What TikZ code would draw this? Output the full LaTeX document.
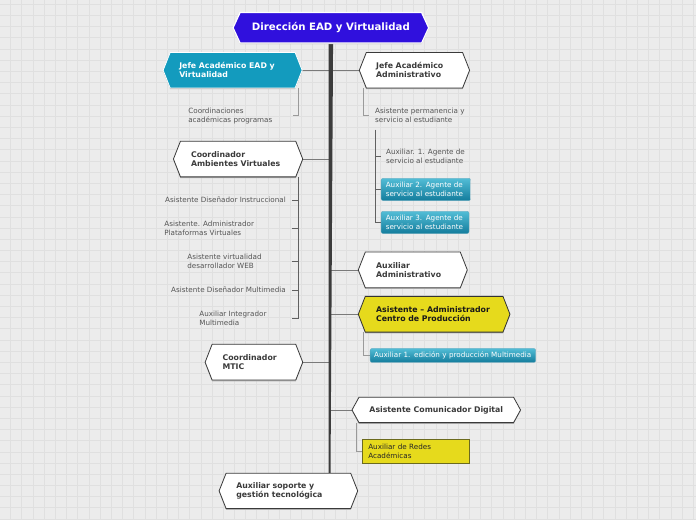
\documentclass[tikz,border=0pt]{standalone}
\usepackage{fontspec}
\setmainfont{DejaVu Sans}
\usetikzlibrary{calc}
\definecolor{bgc}{HTML}{ECECEC}
\definecolor{gridc}{HTML}{E0E0E0}
\definecolor{rootc}{HTML}{3010DD}
\definecolor{tealc}{HTML}{139BBE}
\definecolor{tealtop}{HTML}{52BDD6}
\definecolor{tealbot}{HTML}{137C9C}
\definecolor{yel}{HTML}{E6DA1C}
\definecolor{yelb}{HTML}{6B6A1E}
\definecolor{txt}{HTML}{3A3A3A}
\definecolor{smallc}{HTML}{555555}
\definecolor{trunkc}{HTML}{3C3C3C}
\definecolor{linec}{HTML}{7A7A7A}
\definecolor{subc}{HTML}{9A9A9A}
\definecolor{darksub}{HTML}{606060}
\pgfdeclarelayer{bg}\pgfdeclarelayer{edges}\pgfsetlayers{bg,edges,main}
\tikzset{
 boldtxt/.style={font=\fontsize{7.8}{9}\selectfont\bfseries, text=txt, align=left, inner sep=0, anchor=west},
 blacktxt/.style={boldtxt, text=black!90},
 whitebold/.style={boldtxt, text=white},
 roottxt/.style={font=\fontsize{10.2}{12}\selectfont\bfseries, text=white, inner sep=0},
 smalltxt/.style={font=\fontsize{7.2}{9}\selectfont, text=smallc, align=left, inner sep=0},
 whitehex/.style={fill=white, draw=txt, line width=0.8pt},
 tealhex/.style={fill=tealc, draw=white, line width=0.8pt},
 roothex/.style={fill=rootc, draw=white, line width=1.2pt},
 yelhex/.style={fill=yel, draw=black!80, line width=0.8pt},
 conn/.style={draw=linec, line width=0.8pt},
 subconn/.style={draw=subc, line width=0.8pt},
 darkconn/.style={draw=darksub, line width=0.9pt},
 tealbox/.style={rounded corners=2pt, top color=tealtop, bottom color=tealbot, draw=tealbot!70, line width=0.3pt, text=white, font=\fontsize{7.2}{9}\selectfont, align=left, anchor=north west, inner ysep=0},
 yelbox/.style={fill=yel, draw=yelb, line width=0.6pt, text=black!85, font=\fontsize{7.2}{9}\selectfont, align=left, anchor=north west, inner ysep=0},
}
% name, x1, y1, x2, y2, shape style, text style, text x offset, text
\newcommand\hx[9]{%
  \node[inner sep=0, minimum width={#4-#2}, minimum height={#5-#3}, anchor=north west] (#1) at (#2,#3) {};
  \path[fill=black!30, transform canvas={yshift=-1.2pt}] (#1.west) -- ([xshift=7]#1.north west) -- ([xshift=-7]#1.north east) -- (#1.east) -- ([xshift=-7]#1.south east) -- ([xshift=7]#1.south west) -- cycle;
  \path[#6] (#1.west) -- ([xshift=7]#1.north west) -- ([xshift=-7]#1.north east) -- (#1.east) -- ([xshift=-7]#1.south east) -- ([xshift=7]#1.south west) -- cycle;
  \node[#7] (#1t) at ([xshift=#8]#1.west) {#9};
}
\begin{document}
\begin{tikzpicture}[x=1pt,y=-1pt]
\begin{pgfonlayer}{bg}
\fill[bgc] (0,0) rectangle (696,520);
\foreach \i in {0,...,61} \draw[gridc, line width=0.6pt] ({10.3+11.2*\i},0) -- ({10.3+11.2*\i},520);
\foreach \j in {0,...,46} \draw[gridc, line width=0.6pt] (0,{3.9+11.2*\j}) -- (696,{3.9+11.2*\j});
\end{pgfonlayer}
\useasboundingbox (0,0) rectangle (696,520);

% main hexagons
\node[inner sep=0, minimum width=195.3, minimum height=30, anchor=north west] (root) at (233,12.3) {};
\path[fill=black!30, transform canvas={yshift=-1.2pt}] (root.west) -- ([xshift=7]root.north west) -- ([xshift=-7]root.north east) -- (root.east) -- ([xshift=-7]root.south east) -- ([xshift=7]root.south west) -- cycle;
\path[roothex] (root.west) -- ([xshift=7]root.north west) -- ([xshift=-7]root.north east) -- (root.east) -- ([xshift=-7]root.south east) -- ([xshift=7]root.south west) -- cycle;
\node[roottxt] (roott) at (root.center) {Dirección EAD y Virtualidad};

\hx{jefeEAD}{163}{52.3}{301.7}{87.3}{tealhex}{whitebold}{16}{Jefe Académico EAD y\\Virtualidad}
\hx{jefeADM}{359.3}{52.3}{469.3}{87.3}{whitehex}{boldtxt}{16.7}{Jefe Académico\\Administrativo}
\hx{coordAV}{173.3}{141}{302.3}{176.3}{whitehex}{boldtxt}{17.4}{Coordinador\\Ambientes Virtuales}
\hx{auxADM}{358.3}{252}{467}{287.3}{whitehex}{boldtxt}{17.7}{Auxiliar\\Administrativo}
\hx{asisCP}{358.3}{296.3}{509.7}{331.7}{yelhex}{blacktxt}{17.7}{Asistente – Administrador\\Centro de Producción}
\hx{mtic}{205}{344.3}{302.3}{379.7}{whitehex}{boldtxt}{17.3}{Coordinador\\MTIC}
\hx{comun}{352}{397.3}{520.3}{422.3}{whitehex}{boldtxt}{17.3}{Asistente Comunicador Digital}
\hx{soporte}{219}{473.3}{357.3}{508.3}{whitehex}{boldtxt}{17}{Auxiliar soporte y\\gestión tecnológica}

% small texts
\node[smalltxt, anchor=west] (coordp) at (188,115.5) {Coordinaciones\\académicas programas};
\node[smalltxt, anchor=west] (asperm) at (375,115.5) {Asistente permanencia y\\servicio al estudiante};
\node[smalltxt, anchor=west] (ag1) at (386,156.5) {Auxiliar. 1. Agente de\\servicio al estudiante};
\node[tealbox, minimum height=22.3, text width=80.3, inner xsep=4.7] (ag2) at (381,178) {Auxiliar 2. Agente de\\servicio al estudiante};
\node[tealbox, minimum height=22.3, text width=78.6, inner xsep=4.7] (ag3) at (381,211) {Auxiliar 3. Agente de\\servicio al estudiante};

\node[smalltxt, anchor=east] (dis) at (286,200) {Asistente Diseñador Instruccional};
\node[smalltxt, anchor=west] (adm) at (164,228.5) {Asistente. Administrador\\Plataformas Virtuales};
\node[smalltxt, anchor=west] (web) at (187,261.5) {Asistente virtualidad\\desarrollador WEB};
\node[smalltxt, anchor=east] (mult) at (286,290) {Asistente Diseñador Multimedia};
\node[smalltxt, anchor=west] (intg) at (199,318.5) {Auxiliar Integrador\\Multimedia};

\node[tealbox, minimum height=14, text width=157.7, inner xsep=4] (ed) at (370,348.3) {Auxiliar 1. edición y producción Multimedia};
\node[yelbox, minimum height=24.3, text width=95, inner xsep=5.7] (redes) at (362.3,439) {Auxiliar de Redes\\Académicas};

\coordinate (trunkend) at (329.5,473.3);

\begin{pgfonlayer}{edges}
% branches
\draw[conn] (jefeEAD.east) -- (jefeADM.west);
\draw[conn] (coordAV.east) -- (coordAV.east -| trunkend);
\draw[conn] (auxADM.west) -- (auxADM.west -| trunkend);
\draw[conn] (asisCP.west) -- (asisCP.west -| trunkend);
\draw[conn] (mtic.east) -- (mtic.east -| trunkend);
\draw[conn] (comun.west) -- (comun.west -| trunkend);
% trunk
\fill[trunkc] ([xshift=-2.2]root.south) -- ([xshift=2.2]root.south) -- ([xshift=1]trunkend) -- ([xshift=-1]trunkend) -- cycle;
% sub connectors
\draw[subconn] ([xshift=-4]jefeEAD.south east) |- ([xshift=20.7]coordp.east);
\draw[subconn] ([xshift=4]jefeADM.south west) |- ([xshift=-6]asperm.west);
\coordinate (v0) at ([yshift=-6.5]asperm.south west);
\draw[darkconn] (v0) -- (v0 |- ag3.west) -- (ag3.west);
\draw[darkconn] (v0 |- ag1.west) -- ([xshift=-5.3]ag1.west);
\draw[darkconn] (v0 |- ag2.west) -- (ag2.west);
\coordinate (cv) at ([xshift=-4.3]coordAV.south east);
\draw[darkconn] (cv) -- (cv |- intg.west) -- ++(-6.5,0);
\draw[darkconn] (cv |- dis.east) -- ++(-6.5,0);
\draw[darkconn] (cv |- adm.west) -- ++(-6.5,0);
\draw[darkconn] (cv |- web.west) -- ++(-6.5,0);
\draw[darkconn] (cv |- mult.east) -- ++(-6.5,0);
\draw[subconn] ([xshift=4.7]asisCP.south west) |- (ed.west);
\draw[subconn] ([xshift=4.3]comun.south west) |- (redes.west);
\end{pgfonlayer}
\end{tikzpicture}
\end{document}
